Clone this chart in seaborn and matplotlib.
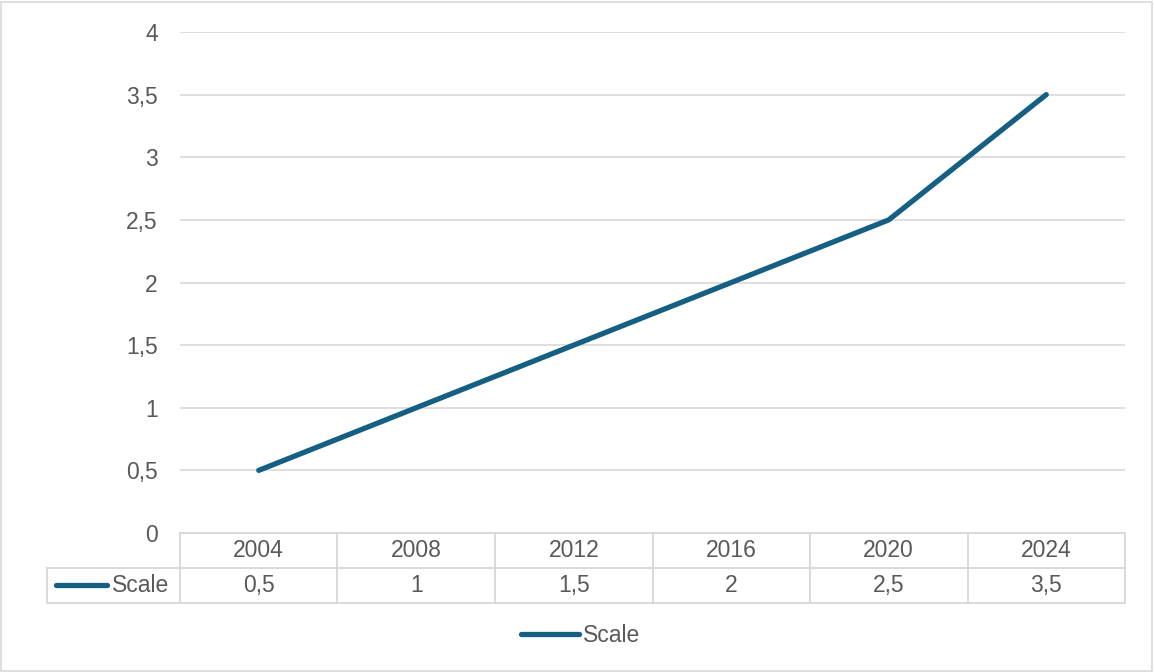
import numpy as np
import pandas as pd
import matplotlib
matplotlib.use("Agg")
import matplotlib.pyplot as plt
from matplotlib.lines import Line2D
from matplotlib.ticker import FuncFormatter
import seaborn as sns

years = ["2004", "2008", "2012", "2016", "2020", "2024"]
scale = [0.5, 1, 1.5, 2, 2.5, 3.5]
series_name = "Scale"
yticks = [0, 0.5, 1, 1.5, 2, 2.5, 3, 3.5, 4]

line_col = "#156082"
grid_col = "#d9d9d9"
text_col = "#595959"
fs = 16.5

sns.set_theme(style="white")
plt.rcParams["font.family"] = ["Liberation Sans", "DejaVu Sans"]

W, H = 1154, 672
fig = plt.figure(figsize=(W / 100, H / 100), dpi=100)
fig.patch.set_facecolor("white")
fig.patches.append(plt.Rectangle((1 / W, 1 / H), 1 - 3 / W, 1 - 3 / H, transform=fig.transFigure,
                                 fill=False, edgecolor=grid_col, lw=1.2))

x0, x1, y_top, y_zero = 180, 1125, 32, 533
ax = fig.add_axes([x0 / W, 1 - y_zero / H, (x1 - x0) / W, (y_zero - y_top) / H])

df = pd.DataFrame({"pos": np.arange(len(years)), "val": scale})
sns.lineplot(data=df, x="pos", y="val", ax=ax, color=line_col, lw=3.8,
             solid_capstyle="round", solid_joinstyle="round", label=series_name, legend=False)

ax.set_xlim(-0.5, len(years) - 0.5)
ax.set_ylim(0, 4)
ax.set_yticks(yticks)
ax.yaxis.set_major_formatter(FuncFormatter(lambda v, p: ("%g" % v).replace(".", ",")))
ax.set_xticks([])
ax.set_xlabel("")
ax.set_ylabel("")
ax.tick_params(axis="y", length=0, pad=16, labelsize=fs, labelcolor=text_col)
ax.grid(axis="y", color=grid_col, lw=1.2)
ax.set_axisbelow(True)
for s in ax.spines.values():
    s.set_visible(False)

# data table below the plot
def fx(px):
    return px / W

def fy(py):
    return 1 - py / H

r1, r2, r3 = 533, 568, 603
left = 47
cw = (x1 - x0) / len(years)
tab = dict(color=grid_col, lw=1.4, transform=fig.transFigure)
fig.add_artist(Line2D([fx(x0), fx(x1)], [fy(r1), fy(r1)], **tab))
fig.add_artist(Line2D([fx(left), fx(x1)], [fy(r2), fy(r2)], **tab))
fig.add_artist(Line2D([fx(left), fx(x1)], [fy(r3), fy(r3)], **tab))
fig.add_artist(Line2D([fx(left), fx(left)], [fy(r2), fy(r3)], **tab))
for i in range(len(years) + 1):
    xx = x0 + i * cw
    fig.add_artist(Line2D([fx(xx), fx(xx)], [fy(r1), fy(r3)], **tab))
for i, (yr, v) in enumerate(zip(years, scale)):
    cx = x0 + (i + 0.5) * cw
    fig.text(fx(cx), fy((r1 + r2) / 2), yr, ha="center", va="center", fontsize=fs, color=text_col)
    fig.text(fx(cx), fy((r2 + r3) / 2), ("%g" % v).replace(".", ","), ha="center", va="center",
             fontsize=fs, color=text_col)
fig.add_artist(Line2D([fx(56), fx(107)], [fy(585), fy(585)], color=line_col, lw=3.8,
                      solid_capstyle="round", transform=fig.transFigure))
fig.text(fx(112), fy(585), series_name, ha="left", va="center", fontsize=fs, color=text_col)

# legend
handle = Line2D([], [], color=line_col, lw=3.8, solid_capstyle="round")
fig.legend([handle], [series_name], loc="center", bbox_to_anchor=(fx(581), fy(636)), frameon=False,
           fontsize=fs, labelcolor=text_col, handlelength=2.5, handletextpad=0.2)

fig.savefig("out.png", dpi=100, facecolor="white")
